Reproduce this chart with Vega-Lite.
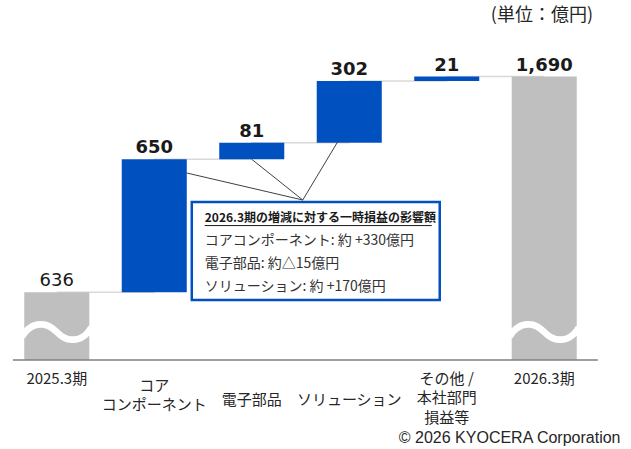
{
  "$schema": "https://vega.github.io/schema/vega-lite/v6.json",
  "width": 585,
  "height": 320,
  "autosize": "none",
  "padding": {"left": 8, "top": 40, "right": 38, "bottom": 89},
  "background": "white",
  "config": {"view": {"stroke": null}},
  "title": {"text": "(単位：億円)", "anchor": "end", "frame": "group", "font": "Noto Sans CJK JP", "fontSize": 18, "fontWeight": "normal", "color": "#262626", "baseline": "middle", "offset": 6},
  "datasets": {
    "bars": [
      {"cat": "2025.3期", "kind": "total", "start": 0, "end": 636, "value": 636},
      {"cat": "コアコンポーネント", "kind": "change", "start": 636, "end": 1286, "value": 650},
      {"cat": "電子部品", "kind": "change", "start": 1286, "end": 1367, "value": 81},
      {"cat": "ソリューション", "kind": "change", "start": 1367, "end": 1669, "value": 302},
      {"cat": "その他 / 本社部門損益等", "kind": "change", "start": 1669, "end": 1690, "value": 21},
      {"cat": "2026.3期", "kind": "total", "start": 0, "end": 1690, "value": 1690}
    ]
  },
  "resolve": {"scale": {"x": "independent"}, "axis": {"x": "independent"}},
  "layer": [
    {
      "data": {"name": "bars"},
      "encoding": {
        "x": {
          "field": "cat", "type": "nominal", "sort": null,
          "scale": {"paddingInner": 0.333, "paddingOuter": 0.1667},
          "axis": {
            "domain": false, "ticks": false, "tickSize": 0, "labelAngle": 0,
            "labelFont": "Noto Sans CJK JP", "labelFontSize": 15, "labelColor": "#262626",
            "labelBaseline": "middle", "labelLineHeight": 19.5,
            "labelPadding": {"condition": [{"test": "datum.value === 'コアコンポーネント'", "value": 25}, {"test": "datum.value === '電子部品' || datum.value === 'ソリューション'", "value": 39}], "value": 18},
            "labelExpr": "datum.value === 'コアコンポーネント' ? ['コア', 'コンポーネント'] : datum.value === 'その他 / 本社部門損益等' ? ['その他 /', '本社部門', '損益等'] : datum.value",
            "title": "© 2026 KYOCERA Corporation",
            "titleFont": "Liberation Sans", "titleFontSize": 16, "titleFontWeight": "normal", "titleColor": "#262626",
            "titleAlign": "right", "titleBaseline": "middle", "titleX": 612, "titleY": 77
          }
        }
      },
      "layer": [
        {
          "mark": {"type": "line", "interpolate": "step-after", "stroke": "#D9D9D9", "strokeWidth": 1.5},
          "encoding": {
            "y": {"field": "end", "type": "quantitative", "scale": {"domain": [305, 1869], "nice": false, "zero": false}, "axis": null}
          }
        },
        {
          "mark": {"type": "bar", "clip": true},
          "encoding": {
            "y": {"field": "start", "type": "quantitative", "scale": {"domain": [305, 1869], "nice": false, "zero": false}, "axis": null},
            "y2": {"field": "end"},
            "color": {"field": "kind", "type": "nominal", "scale": {"domain": ["total", "change"], "range": ["#BFBFBF", "#0050C0"]}, "legend": null}
          }
        },
        {
          "transform": [{"filter": "datum.kind === 'total'"}],
          "mark": {"type": "text", "text": "〜", "font": "Noto Sans CJK JP", "fontSize": 82, "fontWeight": "normal", "color": "white", "baseline": "middle", "align": "center"},
          "encoding": {
            "y": {"datum": 414, "type": "quantitative"}
          }
        },
        {
          "transform": [{"filter": "datum.cat === '2025.3期'"}],
          "mark": {"type": "text", "font": "DejaVu Sans", "fontSize": 18, "fontWeight": "normal", "color": "#1a1a1a", "baseline": "alphabetic", "dy": -6},
          "encoding": {
            "y": {"field": "end", "type": "quantitative"},
            "text": {"field": "value", "type": "quantitative", "format": ","}
          }
        },
        {
          "transform": [{"filter": "datum.cat !== '2025.3期'"}],
          "mark": {"type": "text", "font": "DejaVu Sans", "fontSize": 18, "fontWeight": "bold", "color": "#1a1a1a", "baseline": "alphabetic", "dy": -6},
          "encoding": {
            "y": {"field": "end", "type": "quantitative"},
            "text": {"field": "value", "type": "quantitative", "format": ","}
          }
        }
      ]
    },
    {
      "data": {"values": [{}]},
      "layer": [
        {
          "mark": {"type": "rule", "stroke": "#404040", "strokeWidth": 1},
          "encoding": {
            "x": {"datum": 2.523, "type": "quantitative", "scale": {"domain": [-0.5, 5.5], "nice": false, "zero": false}, "axis": null},
            "x2": {"datum": 1.333},
            "y": {"datum": 1087, "type": "quantitative"},
            "y2": {"datum": 1219}
          }
        },
        {
          "mark": {"type": "rule", "stroke": "#404040", "strokeWidth": 1},
          "encoding": {
            "x": {"datum": 2.523, "type": "quantitative", "scale": {"domain": [-0.5, 5.5], "nice": false, "zero": false}, "axis": null},
            "x2": {"datum": 2.0},
            "y": {"datum": 1087, "type": "quantitative"},
            "y2": {"datum": 1286}
          }
        },
        {
          "mark": {"type": "rule", "stroke": "#404040", "strokeWidth": 1},
          "encoding": {
            "x": {"datum": 2.523, "type": "quantitative", "scale": {"domain": [-0.5, 5.5], "nice": false, "zero": false}, "axis": null},
            "x2": {"datum": 2.882},
            "y": {"datum": 1087, "type": "quantitative"},
            "y2": {"datum": 1372}
          }
        },
        {
          "mark": {"type": "rect", "fill": "white", "stroke": "#0050C0", "strokeWidth": 2.5},
          "encoding": {
            "x": {"datum": 1.385, "type": "quantitative", "scale": {"domain": [-0.5, 5.5], "nice": false, "zero": false}, "axis": null},
            "x2": {"datum": 3.928},
            "y": {"datum": 1077, "type": "quantitative"},
            "y2": {"datum": 598}
          }
        },
        {
          "mark": {"type": "text", "text": "2026.3期の増減に対する一時損益の影響額", "font": "Noto Sans CJK JP", "fontSize": 12, "fontWeight": "bold", "color": "#1a1a1a", "align": "left", "baseline": "middle"},
          "encoding": {
            "x": {"datum": 1.518, "type": "quantitative", "scale": {"domain": [-0.5, 5.5], "nice": false, "zero": false}, "axis": null},
            "y": {"datum": 999, "type": "quantitative"}
          }
        },
        {
          "mark": {"type": "rule", "stroke": "#1a1a1a", "strokeWidth": 1},
          "encoding": {
            "x": {"datum": 1.518, "type": "quantitative", "scale": {"domain": [-0.5, 5.5], "nice": false, "zero": false}, "axis": null},
            "x2": {"datum": 3.846},
            "y": {"datum": 962, "type": "quantitative"}
          }
        },
        {
          "mark": {"type": "text", "text": ["コアコンポーネント: 約 +330億円", "電子部品: 約△15億円", "ソリューション: 約 +170億円"], "font": "Noto Sans CJK JP", "fontSize": 14, "fontWeight": "normal", "color": "#333333", "align": "left", "baseline": "middle", "lineHeight": 23},
          "encoding": {
            "x": {"datum": 1.518, "type": "quantitative", "scale": {"domain": [-0.5, 5.5], "nice": false, "zero": false}, "axis": null},
            "y": {"datum": 886, "type": "quantitative"}
          }
        },
        {
          "mark": {"type": "rule", "stroke": "#7F7F7F", "strokeWidth": 1.5},
          "encoding": {
            "x": {"datum": -0.45, "type": "quantitative", "scale": {"domain": [-0.5, 5.5], "nice": false, "zero": false}, "axis": null},
            "x2": {"datum": 5.55},
            "y": {"datum": 305, "type": "quantitative"}
          }
        }
      ]
    }
  ]
}
